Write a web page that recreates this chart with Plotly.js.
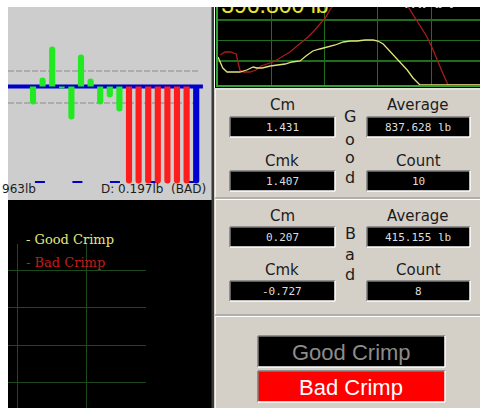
<!DOCTYPE html>
<html><head><meta charset="utf-8">
<script src="https://cdn.plot.ly/plotly-3.0.1.min.js"></script>
<style>html,body{margin:0;padding:0;background:#fff;}#chart{width:480px;height:408px;}</style>
</head><body><div id="chart"></div>
<script>
// ---------------- data ----------------
// deviation bars (top-left): good crimps, bad crimps, current crimp
const goodDev = [-18, 9, 40, -2, -33, 32, 8, -18, -11, -25];
const badDev = [-97, -97, -97, -97, -97, -97, -97];
const currentDev = [-97];
const upperLimit = 15.5;
const lowerLimit = -16.5;
const lowerBound = -95.5;
const readoutLeft = '963lb';
const readoutRight = 'D: 0.197lb\u00a0 (BAD)';

// force curves (top-right)
const curveGoodX = [0,0.9,1.7,3.2,4.1,5.4,6.6,7.3,8.3,9.8,11.1,12.6,13.9,15.4,16.5,17.8,19.1,20.5,22.0,23.5,24.8,26.1,27.6,29.1,30.0,31.0,31.9,32.8,34.2,35.5,36.6,37.9,49.2];
const curveGoodY = [28,17,13,13,13,15,18,17,17,19,20,21,23,24,29,34,36,38,40,43,44,44,45,45,44,41,36,30,23,15,7,0,0];
const curveBadX = [0.4,1.3,2.3,3.4,4.1,4.7,6.0,7.1,8.1,9.2,10.3,11.3,12.2,13.5,14.6,15.8,16.9,18.0,19.1,20.1,21.0,21.9,null,34.9,36.0,37.1,38.3,39.2,40.2,41.1,42.0,43.0,43.2,49.2];
const curveBadY = [30,33,33,31,15,13,13,15,19,21,23,26,29,33,38,43,48,54,61,67,75,82,null,85,75,66,56,48,37,25,14,2,0,0];
const headerTexts = ['396.800 lb', 'MAX'];

// statistics panels
const statLabels = ['Cm', 'Average', 'Cmk', 'Count'];
const goodValues = ['1.431', '837.628 lb', '1.407', '10'];
const badValues = ['0.207', '415.155 lb', '-0.727', '8'];
const groupWords = ['Good', 'Bad'];
const buttonLabels = ['Good Crimp', 'Bad Crimp'];
const legendLabels = ['- Good Crimp', '- Bad Crimp'];

// ---------------- helpers ----------------
const W = 480, H = 408;
const X = p => p / W, Y = p => 1 - p / H;
const shapes = [];
function rect(x0, y0, x1, y1, fill) {
  shapes.push({type:'rect', xref:'paper', yref:'paper', x0:X(x0), x1:X(x1), y0:Y(y1), y1:Y(y0),
    fillcolor:fill, line:{width:0}, layer:'below'});
}
function line(x0, y0, x1, y1, color, w) {
  shapes.push({type:'line', xref:'paper', yref:'paper', x0:X(x0), x1:X(x1), y0:Y(y0), y1:Y(y1),
    line:{color:color, width:w || 1}, layer:'below'});
}
function bevelBox(x0, y0, x1, y1, fill) {
  rect(x0, y0, x1, y1, fill);
  line(x0, y0, x1, y0, '#7c7c7c', 1.5);
  line(x0, y0, x0, y1, '#7c7c7c', 1.5);
  line(x0, y1, x1, y1, '#ffffff', 1.5);
  line(x1, y0, x1, y1, '#ffffff', 1.5);
}
const annotations = [];
function text(t, x, y, size, color, family, xanchor) {
  annotations.push({text:t, xref:'paper', yref:'paper', x:X(x), y:Y(y), xanchor:xanchor || 'center',
    yanchor:'middle', showarrow:false, font:{size:size, color:color, family:family || 'DejaVu Sans'}});
}

// ---------------- panels ----------------
rect(8, 7, 212, 200, '#cdcdcd');        // top-left gray panel
rect(8, 200, 212, 408, '#000000');      // bottom-left black panel
rect(214, 88, 480, 408, '#d4d0c8');     // right gray panels
rect(215, 7, 480, 88, '#000000');       // top-right black panel
rect(211.5, 7, 214, 408, '#3a3a3a');    // divider
line(215, 89, 480, 89, '#f4f4f4', 1);
line(215.5, 89, 215.5, 408, '#f4f4f4', 1);
line(215, 198, 480, 198, '#8c8c8c', 1);
line(215, 199.5, 480, 199.5, '#ffffff', 1);
line(215, 315, 480, 315, '#8c8c8c', 1);
line(215, 316.5, 480, 316.5, '#ffffff', 1);

// stats boxes
const colX = [[230, 335], [367, 470]];
const colC = [282, 418];
function statPanel(values, labelY, boxY, word, wordY) {
  statLabels.forEach((lab, k) => {
    const c = k % 2, r = Math.floor(k / 2);
    text(lab, colC[c], labelY[r], 15, '#1c1c1c');
    bevelBox(colX[c][0], boxY[r], colX[c][1], boxY[r] + 20, '#000000');
    text(values[k], colC[c], boxY[r] + 10, 11, '#dedede', 'DejaVu Sans Mono');
  });
  word.split('').forEach((ch, k) => text(ch, 350, wordY[k], 16, '#1c1c1c'));
}
statPanel(goodValues, [105, 161], [117, 171], groupWords[0], [117, 139, 158, 177]);
statPanel(badValues, [216, 270], [227, 281], groupWords[1], [233, 254, 274]);

// result buttons
bevelBox(258, 336, 445, 367, '#000000');
text(buttonLabels[0], 351, 352, 22, '#8c8c8c', 'Liberation Sans');
bevelBox(258, 371, 445, 402, '#ff0000');
text(buttonLabels[1], 351, 387, 22, '#ffffff', 'Liberation Sans');

// legend texts (bottom-left)
text(legendLabels[0], 24, 239, 13, '#e6e67a', 'DejaVu Serif', 'left');
text(legendLabels[1], 24, 262, 13, '#c21c1c', 'DejaVu Serif', 'left');

// readouts under bar chart
text(readoutLeft, 0, 189, 12, '#1c1c1c', 'DejaVu Sans', 'left');
text(readoutRight, 208, 189, 12, '#1c1c1c', 'DejaVu Sans', 'right');

// limit / baseline shapes in data coords of bar chart (drawn under bars)
const xLeft = -2.604;
shapes.push({type:'line', xref:'x', yref:'y', x0:xLeft, x1:17.7, y0:0, y1:0, layer:'below', line:{color:'#0000cc', width:4}});
shapes.push({type:'line', xref:'x', yref:'y', x0:xLeft, x1:17.2, y0:upperLimit, y1:upperLimit, layer:'below', line:{color:'#8a8a8a', width:1.2, dash:'6px,2px'}});
shapes.push({type:'line', xref:'x', yref:'y', x0:xLeft, x1:17.2, y0:lowerLimit, y1:lowerLimit, layer:'below', line:{color:'#8a8a8a', width:1.2, dash:'6px,2px'}});
shapes.push({type:'line', xref:'x', yref:'y', x0:0.2, x1:17.7, y0:lowerBound, y1:lowerBound, layer:'below', line:{color:'#0000cc', width:2, dash:'10px,27.5px'}});

// ---------------- traces ----------------
const idx = (arr, off) => arr.map((_, i) => i + off);
const barCommon = {type:'bar', width:0.64, xaxis:'x', yaxis:'y', hoverinfo:'skip'};
const traces = [
  Object.assign({}, barCommon, {x:idx(goodDev, 0), y:goodDev, marker:{color:'#22ea22', cornerradius:3, line:{width:0}}}),
  Object.assign({}, barCommon, {x:idx(badDev, goodDev.length), y:badDev, marker:{color:'#ff1c1c', cornerradius:3, line:{width:0}}}),
  Object.assign({}, barCommon, {x:idx(currentDev, goodDev.length + badDev.length), y:currentDev, marker:{color:'#0000d0', cornerradius:3, line:{width:0}}}),
  {type:'scatter', mode:'lines', x:curveBadX, y:curveBadY, xaxis:'x2', yaxis:'y2', connectgaps:false,
   line:{color:'#a81c1c', width:1.3}, cliponaxis:true},
  {type:'scatter', mode:'lines', x:curveGoodX, y:curveGoodY, xaxis:'x2', yaxis:'y2',
   line:{color:'#e2e27a', width:1.3}, cliponaxis:true},
  {type:'scatter', mode:'text', x:[0.6, 34.8], y:[78.2, 82.4], text:headerTexts, xaxis:'x2', yaxis:'y2',
   textposition:'middle right', cliponaxis:true, textfont:{family:'Liberation Sans', size:23, color:'#e8e830'}},
  {type:'scatter', mode:'lines', x:[], y:[], xaxis:'x3', yaxis:'y3'}
];

const noTicks = {showticklabels:false, ticks:'', zeroline:false, fixedrange:true};
const layout = {
  width:W, height:H, margin:{l:0, r:0, t:0, b:0}, paper_bgcolor:'#ffffff', plot_bgcolor:'rgba(0,0,0,0)',
  showlegend:false, barmode:'overlay',
  xaxis:Object.assign({domain:[X(8), X(212)], range:[xLeft, 18.646], visible:false}, noTicks),
  yaxis:Object.assign({domain:[Y(197), Y(7)], range:[-110.5, 79.5], visible:false}, noTicks),
  xaxis2:Object.assign({domain:[X(218), 1], range:[0, 49.16], anchor:'y2', tick0:0, dtick:10, showgrid:true,
    gridcolor:'#1e6e1e', gridwidth:1.2, showline:true, linecolor:'#33a033', linewidth:1.6}, noTicks),
  yaxis2:Object.assign({domain:[Y(85), Y(7)], range:[0, 78], anchor:'x2', tickmode:'array', tickvals:[24, 44.5, 65],
    showgrid:true, gridcolor:'#1e6e1e', gridwidth:1.2, showline:true, linecolor:'#33a033', linewidth:1.6}, noTicks),
  xaxis3:Object.assign({domain:[X(8), X(146)], range:[0, 138], anchor:'y3', tickmode:'array', tickvals:[9, 78],
    showgrid:true, gridcolor:'#1c4a1c', showline:false}, noTicks),
  yaxis3:Object.assign({domain:[0, Y(244)], range:[0, 164], anchor:'x3', tickmode:'array', tickvals:[26, 63, 101, 138],
    showgrid:true, gridcolor:'#1c4a1c', showline:false}, noTicks),
  shapes:shapes, annotations:annotations
};
Plotly.newPlot('chart', traces, layout, {staticPlot:true, displayModeBar:false});
</script>
</body></html>
